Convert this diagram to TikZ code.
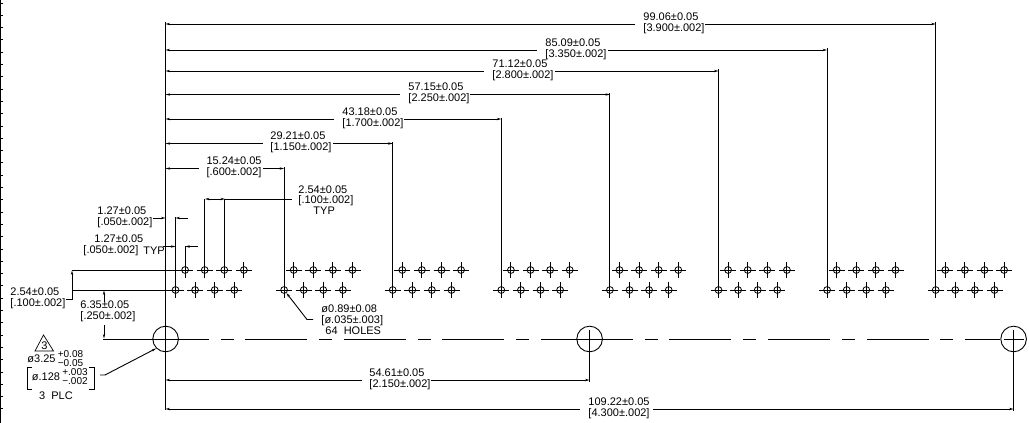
\documentclass[tikz,border=0pt]{standalone}
\usepackage{xcolor}
\usepackage{fontspec}
\setmainfont{Liberation Sans}
\usepackage{tikz}
\usetikzlibrary{arrows.meta}

\begin{document}
\begin{tikzpicture}[>={Stealth[length=4.5pt,width=2.4pt]},x=1pt,y=-1pt,line width=0.9pt,
    every node/.style={inner sep=0pt,font=\fontsize{11}{10.8}\selectfont,align=center},
    label/.style={anchor=west,align=left},
    tol/.style={font=\fontsize{10}{9.6}\selectfont},
    hole/.style={circle,draw,minimum size=6.8pt,line width=0.8pt},
    bighole/.style={circle,draw,minimum size=25.6pt},
    ext/.style={line width=0.9pt},
    dim/.style={line width=0.9pt}]
      \useasboundingbox (0,0) rectangle (1029,423);

      % edge of the sheet
      \draw (0.5,0) -- (0.5,423);
      \foreach \t in {0,...,33} \draw (0.5,3+12.3*\t) -- (2.5,3+12.3*\t);

      % the holes, eight groups of four pairs
      \foreach \g in {0,...,7} {
        \foreach \h in {0,...,3} {
          \pgfmathsetmacro{\bx}{175.5+108.6*\g+19.6*\h}
          \pgfmathsetmacro{\tx}{\bx+9.6}
          \node[hole] (b\g\h) at (\bx,290) {};
          \node[hole] (t\g\h) at (\tx,270) {};
          \draw (b\g\h.center) +(-8,0) -- +(8,0) +(0,-8) -- +(0,8);
          \draw (t\g\h.center) +(-8,0) -- +(8,0) +(0,-8) -- +(0,8);
        }
      }

      \node[bighole] (H1) at (165.6,339) {};
      \node[bighole] (H2) at (589.6,339) {};
      \node[bighole] (H3) at (1013.6,339) {};
      \draw (H2.center) +(-10,0) -- +(10,0);
      \draw (H3.center) +(-10,0) -- +(10,0);

      % centre line
      \draw (103,339) -- (208.5,339);
      \foreach \s in {0,...,3} {
        \pgfmathsetmacro{\sx}{220.5+98.6*\s}
        \draw (\sx,339) -- +(13,0);
      }
      \draw (245,339) -- (307,339);
      \draw (343.6,339) -- (405.6,339);
      \draw (442.2,339) -- (504,339);
      \draw (541,339) -- (633,339);
      \foreach \s in {0,...,3} {
        \pgfmathsetmacro{\sx}{645+98.4*\s}
        \draw (\sx,339) -- +(13,0);
      }
      \draw (669,339) -- (731,339);
      \draw (768,339) -- (830,339);
      \draw (867,339) -- (929,339);
      \draw (965,339) -- (H3.west);

      % datum and extension lines
      \coordinate (datumT) at (165.5,22);
      \coordinate (datumB) at (165.5,410);
      \draw[ext] (datumT) -- (datumB);
      \foreach \g/\ty in {1/167,2/142,3/118,4/93,5/69,6/48,7/22}
        \draw[ext] (b\g0.center) +(0,8) -- (b\g0.center |- 0,\ty);
      \draw[ext] (b00.center) +(0,8) -- (b00.center |- 0,217);
      \draw[ext] (t00.center) -- (t00.center |- 0,246);
      \draw[ext] (t01.center) -- (t01.center |- 0,199);
      \draw[ext] (t02.center) -- (t02.center |- 0,199);
      \draw[ext] (H2.center) +(0,-9) -- (589.6,382);
      \draw[ext] (H3.center) +(0,-9) -- (1013.6,411);
      \draw[ext] (t00.center) ++(-5,0) -- (72,270);
      \draw[ext] (b00.center) -- (72,290);

      % long dimensions from the datum
      \foreach \nm/\g/\y/\tx/\gl/\gr/\la/\lb in {
          A/7/24/643/635/705/99.06±0.05/3.900,
          B/6/50/545/537/608/85.09±0.05/3.350,
          C/5/71/492/484/555/71.12±0.05/2.800,
          D/4/94.5/408/400/470/57.15±0.05/2.250,
          E/3/119/342/334/404/43.18±0.05/1.700,
          F/2/143.5/270/263/333/29.21±0.05/1.150} {
        \node[label] (dim\nm) at (\tx,\y-1) {\la\\{[\lb±.002]}};
        \draw[dim,<-] (165.5,\y) -- (\gl,\y);
        \draw[dim,->] (\gr,\y) -- (b\g0.center |- 0,\y);
      }

      \node (dimG) at (234,167.5) {15.24±0.05\\{[.600±.002]}};
      \draw[dim,<-] (165.5,168.5) -- (199,168.5);
      \draw[dim,->] (263,168.5) -- (b10.center |- 0,168.5);

      \node[label] (dimH) at (369,379) {54.61±0.05\\{[2.150±.002]}};
      \draw[dim,<-] (165.5,380) -- (362,380);
      \draw[dim,->] (431,380) -- (589.6,380);
      \node (dimI) at (619,408) {109.22±0.05\\{[4.300±.002]}};
      \draw[dim,<-] (165.5,409) -- (580,409);
      \draw[dim,->] (653,409) -- (1013.6,409);

      % short dimensions
      \node[label] (pitch) at (298,200) {2.54±0.05\\{[.100±.002]}\\\hspace*{15pt}TYP};
      \draw[dim,<->] (205,199) -- (225,199);
      \draw[dim] (225,199) -- (292,199);

      \node[label] (offA) at (97,217) {1.27±0.05\\{[.050±.002]}};
      \draw[dim,->] (153,218) -- (165.5,218);
      \draw[dim,->] (188,218) -- (175.5,218);

      \node[label] (offB) at (83,245.5) {\hspace*{11pt}1.27±0.05\\{[.050±.002]}};
      \node (offT) at (154,251) {TYP};
      \draw[dim,->] (163,246.5) -- (175.5,246.5);
      \draw[dim,->] (198,246.5) -- (185.3,246.5);

      \node[label] (rowD) at (10,298.5) {2.54±0.05\\{[.100±.002]}};
      \draw[dim,<-] (72,270.5) -- (72,289.5);
      \draw[dim] (72,290) -- (72,299) -- (66,299);

      \node[label] (edgeD) at (80,311.5) {6.35±0.05\\{[.250±.002]}};
      \draw[dim,<-] (104,290.5) -- (104,302);
      \draw[dim,<-] (104,338.5) -- (104,325);

      % small hole callout
      \node[label] (smallN) at (321,320) {ø0.89±0.08\\{[ø.035±.003]}\\\hspace*{4pt}64\ \ HOLES};
      \draw[dim,<-] (b10) -- (307,319.5) -- (313,319.5);

      % large hole callout
      \coordinate (triA) at (43.5,335);
      \node (triN) at (44.5,346) {3};
      \draw[line width=0.7pt] (triA) -- (53.5,351) -- (35,351) -- cycle;
      \node (bigA) at (41.5,358.5) {ø3.25};
      \node[tol] (bigB) at (70.5,358.5) {+0.08\\−0.05};
      \node (bigC) at (46,377) {ø.128};
      \node[tol] (bigD) at (75,376.5) {+.003\\−.002};
      \node (plc) at (56,396) {3\ \ PLC};
      \draw (32,367) -- (27,367) -- (27,389) -- (32,389);
      \draw (89,367) -- (94.5,367) -- (94.5,389) -- (89,389);
      \draw[dim,<-] (H1.south west) -- (105,375) -- (100,375);
\end{tikzpicture}
\end{document}
